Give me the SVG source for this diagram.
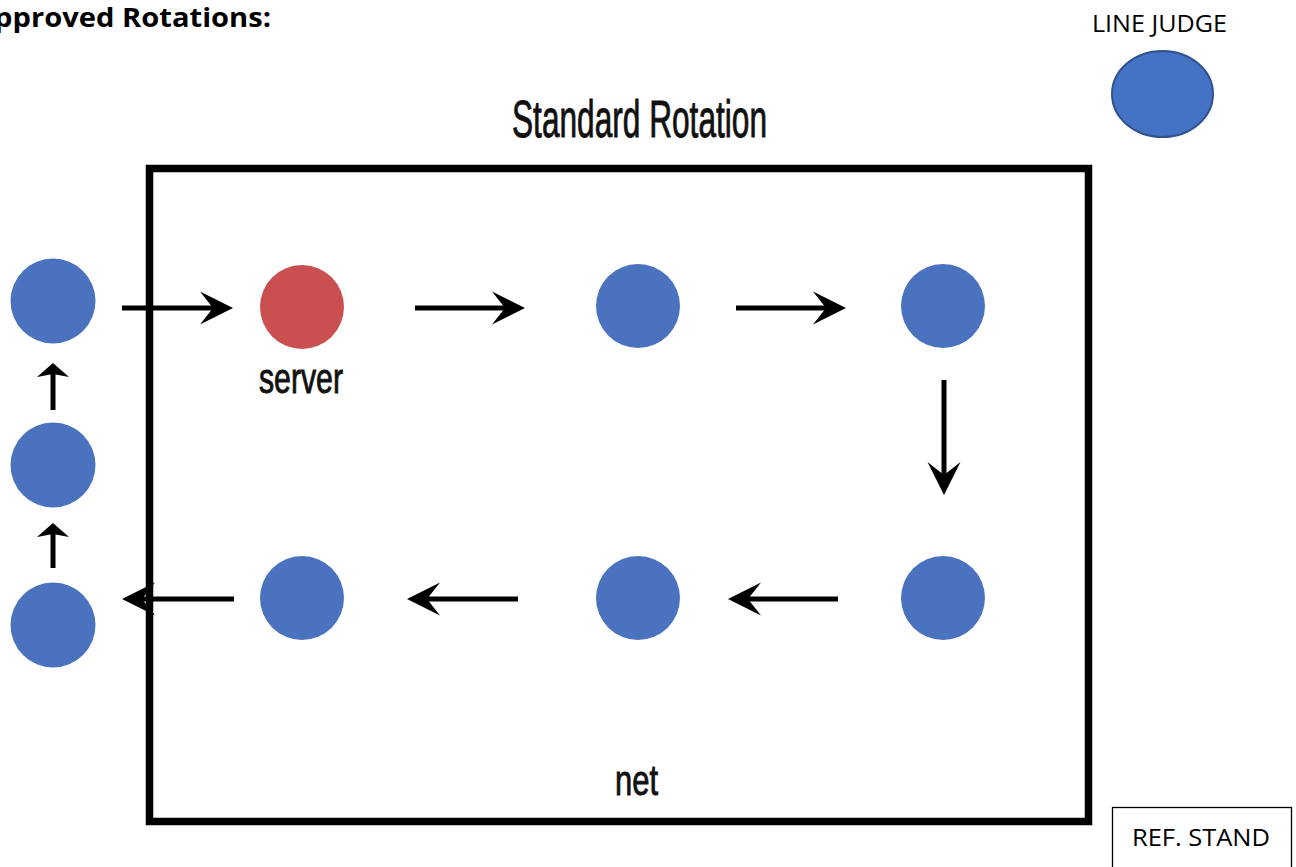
<svg xmlns="http://www.w3.org/2000/svg" width="1296" height="867" viewBox="0 0 1296 867">
  <style>
    .player { fill: #4a72bf; }
    .server { fill: #c94f50; }
    .label { font-family: "Liberation Sans", Arial, sans-serif; fill: #111; stroke: #111; stroke-width: 0.9; }
    .note { font-family: "Open Sans", "Liberation Sans", sans-serif; fill: #000; }
    .court { fill: none; stroke: #000; stroke-width: 7.5; }
    .link { stroke: #000; stroke-width: 5; fill: none; }
    .link-big { marker-end: url(#head); }
    .link-small { marker-end: url(#headSmall); }
  </style>
  <defs>
    <!-- swept arrowhead, reference point at the notch where the shaft ends -->
    <marker id="head" markerUnits="userSpaceOnUse" viewBox="-14 -17 35 34" markerWidth="35" markerHeight="34" refX="0" refY="0" orient="auto" overflow="visible">
      <path d="M20,0 L-13,-16.5 L0,0 L-13,16.5 Z" fill="#000"/>
    </marker>
    <marker id="headSmall" markerUnits="userSpaceOnUse" viewBox="-2 -17 16 34" markerWidth="16" markerHeight="34" refX="3" refY="0" orient="auto" overflow="visible">
      <path d="M14,0 L0,-16 L3,0 L0,16 Z" fill="#000"/>
    </marker>
  </defs>

  <rect width="1296" height="867" fill="#fff"/>

  <!-- heading, running off the left edge -->
  <text class="note" x="-26" y="27" font-size="27" font-weight="bold" textLength="297" lengthAdjust="spacingAndGlyphs">Approved Rotations:</text>

  <!-- line judge -->
  <g id="line-judge">
    <text class="note" x="1092" y="32" font-size="23.5" textLength="135" lengthAdjust="spacingAndGlyphs">LINE JUDGE</text>
    <ellipse cx="1162.5" cy="94" rx="50.5" ry="43" fill="#4472c4" stroke="#2f528f" stroke-width="2"/>
  </g>

  <!-- court -->
  <g id="court">
    <text class="label" x="512" y="137" font-size="51" textLength="255" lengthAdjust="spacingAndGlyphs">Standard Rotation</text>
    <rect class="court" x="149.5" y="168.5" width="939" height="653"/>
    <text class="label" x="615" y="795" font-size="42" textLength="43" lengthAdjust="spacingAndGlyphs">net</text>
  </g>

  <!-- referee stand -->
  <g id="ref-stand">
    <rect x="1112.5" y="807.5" width="179" height="70" fill="#fff" stroke="#000" stroke-width="1.3"/>
    <text class="note" x="1132" y="846" font-size="24" textLength="138" lengthAdjust="spacingAndGlyphs">REF. STAND</text>
  </g>

  <!-- players -->
  <g id="sub-1"><circle class="player" cx="53" cy="301" r="42.5"/></g>
  <g id="sub-2"><circle class="player" cx="53" cy="465" r="42.5"/></g>
  <g id="sub-3"><circle class="player" cx="53" cy="625" r="42.5"/></g>
  <g id="server">
    <circle class="server" cx="302" cy="307" r="42"/>
    <text class="label" x="259" y="393" font-size="42" textLength="84" lengthAdjust="spacingAndGlyphs">server</text>
  </g>
  <g id="pos-top-mid"><circle class="player" cx="638" cy="306" r="42"/></g>
  <g id="pos-top-right"><circle class="player" cx="943" cy="306" r="42"/></g>
  <g id="pos-bottom-right"><circle class="player" cx="943" cy="598" r="42"/></g>
  <g id="pos-bottom-mid"><circle class="player" cx="638" cy="598" r="42"/></g>
  <g id="pos-bottom-left"><circle class="player" cx="302" cy="598" r="42"/></g>

  <!-- rotation arrows -->
  <g id="connectors">
    <line class="link link-big" x1="122" y1="308" x2="213" y2="308"/>
    <line class="link link-big" x1="415" y1="308" x2="505" y2="308"/>
    <line class="link link-big" x1="736" y1="308" x2="826" y2="308"/>
    <line class="link link-big" x1="944" y1="380" x2="944" y2="475"/>
    <line class="link link-big" x1="838" y1="599" x2="748" y2="599"/>
    <line class="link link-big" x1="518" y1="599" x2="427" y2="599"/>
    <line class="link link-big" x1="234" y1="599" x2="142" y2="599"/>
    <line class="link link-small" x1="53" y1="568" x2="53" y2="534"/>
    <line class="link link-small" x1="53" y1="410" x2="53" y2="374"/>
  </g>
</svg>
